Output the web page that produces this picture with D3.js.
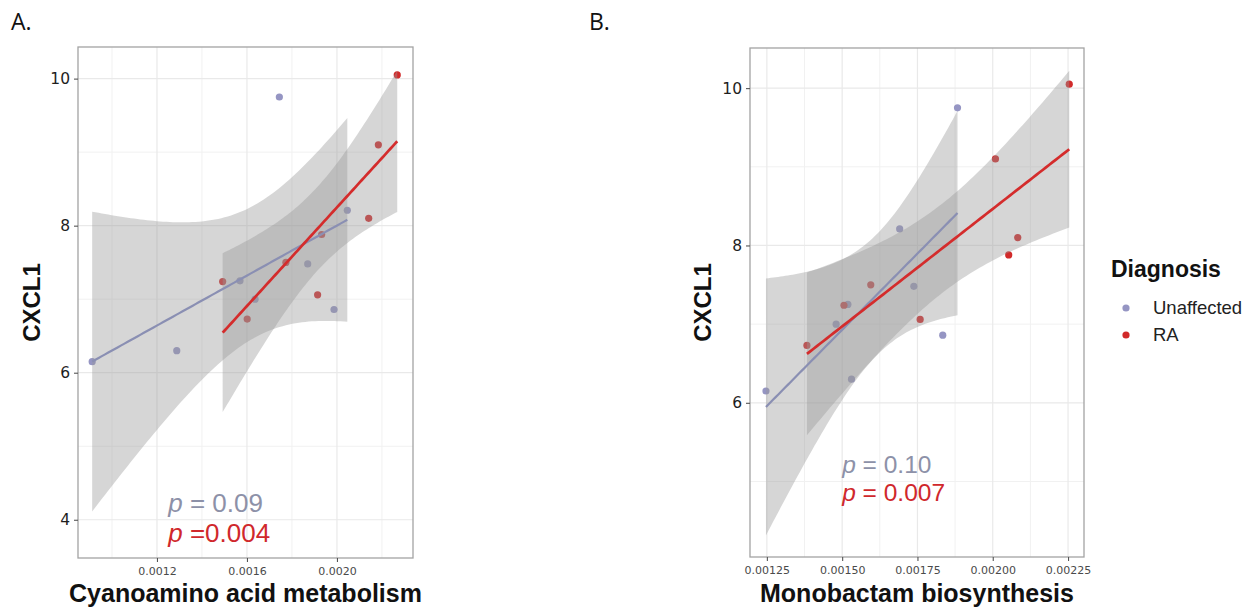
<!DOCTYPE html>
<html><head><meta charset="utf-8">
<script src="https://cdn.jsdelivr.net/npm/d3@7"></script>
<style>
html,body{margin:0;padding:0;background:#fff;}
svg{display:block;}
</style></head>
<body><svg id="chart" width="1252" height="608"></svg>
<script>
// ---------------- DATA ----------------
const groups = ["Unaffected", "RA"];
const groupColors = ["#9595c3", "#d12a2a"];
const lineColors = ["#8a8fb3", "#d42c2c"];
const textColors = ["#8d91a8", "#d0282c"];

// Panel A: Cyanoamino acid metabolism vs CXCL1
const aUnaffectedX = [0.000912, 0.001288, 0.001569, 0.001636, 0.001744, 0.001870, 0.001987, 0.002046];
const aUnaffectedY = [6.15, 6.30, 7.25, 7.00, 9.75, 7.48, 6.86, 8.21];
const aRAX = [0.001492, 0.001601, 0.001773, 0.001914, 0.001932, 0.002141, 0.002184, 0.002268];
const aRAY = [7.24, 6.73, 7.50, 7.06, 7.88, 8.10, 9.10, 10.05];
const aXTicks = [0.0012, 0.0016, 0.0020];
const aXMinor = [0.0010, 0.0014, 0.0018, 0.0022];
const aYTicks = [4, 6, 8, 10];
const aYMinor = [5, 7, 9];
const aPValues = ["0.09", "0.004"];

// Panel B: Monobactam biosynthesis vs CXCL1
const bUnaffectedX = [0.001247, 0.001480, 0.001519, 0.001531, 0.001691, 0.001738, 0.001834, 0.001883];
const bUnaffectedY = [6.15, 7.00, 7.25, 6.30, 8.21, 7.48, 6.86, 9.75];
const bRAX = [0.001383, 0.001506, 0.001595, 0.001759, 0.002009, 0.002053, 0.002083, 0.002254];
const bRAY = [6.73, 7.24, 7.50, 7.06, 9.10, 7.88, 8.10, 10.05];
const bXTicks = [0.00125, 0.00150, 0.00175, 0.00200, 0.00225];
const bXMinor = [0.001375, 0.001625, 0.001875, 0.002125];
const bYTicks = [6, 8, 10];
const bYMinor = [5, 7, 9];
const bPValues = ["0.10", "0.007"];

// t critical values (97.5%) by degrees of freedom
const tCrit = {4: 2.776445, 5: 2.570582, 6: 2.446912, 7: 2.364624, 8: 2.306004};

// ---------------- HELPERS ----------------
function lmFit(xs, ys) {
  const n = xs.length;
  const mx = d3.mean(xs), my = d3.mean(ys);
  let sxx = 0, sxy = 0;
  for (let i = 0; i < n; i++) { sxx += (xs[i]-mx)**2; sxy += (xs[i]-mx)*(ys[i]-my); }
  const b = sxy / sxx, a = my - b * mx;
  let sse = 0;
  for (let i = 0; i < n; i++) sse += (ys[i] - (a + b*xs[i]))**2;
  const s = Math.sqrt(sse / (n - 2));
  const t = tCrit[n - 2];
  const [x0, x1] = d3.extent(xs);
  return d3.range(80).map(k => {
    const x = x0 + (x1 - x0) * k / 79;
    const fit = a + b * x;
    const se = s * Math.sqrt(1/n + (x-mx)**2 / sxx);
    return {x, fit, lo: fit - t*se, hi: fit + t*se};
  });
}

const svg = d3.select("#chart");
const sans = "'Liberation Sans', Arial, sans-serif";

function drawPanel(cfg) {
  const g = svg.append("g");
  const x = d3.scaleLinear().domain(cfg.xDomain).range([cfg.left, cfg.right]);
  const y = d3.scaleLinear().domain(cfg.yDomain).range([cfg.bottom, cfg.top]);

  g.append("rect").attr("x", cfg.left).attr("y", cfg.top)
    .attr("width", cfg.right - cfg.left).attr("height", cfg.bottom - cfg.top).attr("fill", "#fff");

  // grid
  g.selectAll(".vminor").data(cfg.xMinor).enter().append("line")
    .attr("x1", d => x(d)).attr("x2", d => x(d)).attr("y1", cfg.top).attr("y2", cfg.bottom)
    .attr("stroke", "#f1f1f1").attr("stroke-width", 1);
  g.selectAll(".hminor").data(cfg.yMinor).enter().append("line")
    .attr("y1", d => y(d)).attr("y2", d => y(d)).attr("x1", cfg.left).attr("x2", cfg.right)
    .attr("stroke", "#f1f1f1").attr("stroke-width", 1);
  g.selectAll(".vmajor").data(cfg.xTicks).enter().append("line")
    .attr("x1", d => x(d)).attr("x2", d => x(d)).attr("y1", cfg.top).attr("y2", cfg.bottom)
    .attr("stroke", "#e9e9e9").attr("stroke-width", 1.2);
  g.selectAll(".hmajor").data(cfg.yTicks).enter().append("line")
    .attr("y1", d => y(d)).attr("y2", d => y(d)).attr("x1", cfg.left).attr("x2", cfg.right)
    .attr("stroke", "#e9e9e9").attr("stroke-width", 1.2);

  // points (under ribbons, as in ggplot layer order)
  cfg.series.forEach((s, i) => {
    g.selectAll(null).data(s.xs.map((d, k) => [d, s.ys[k]])).enter().append("circle")
      .attr("cx", d => x(d[0])).attr("cy", d => y(d[1])).attr("r", 3.6)
      .attr("fill", groupColors[i]);
  });

  // ribbons and lines
  const fits = cfg.series.map(s => lmFit(s.xs, s.ys));
  fits.forEach(pts => {
    g.append("path").datum(pts)
      .attr("d", d3.area().x(d => x(d.x)).y0(d => y(d.lo)).y1(d => y(d.hi)))
      .attr("fill", "#999999").attr("fill-opacity", 0.4);
  });
  fits.forEach((pts, i) => {
    g.append("path").datum(pts)
      .attr("d", d3.line().x(d => x(d.x)).y(d => y(d.fit)))
      .attr("fill", "none").attr("stroke", lineColors[i]).attr("stroke-width", i === 1 ? 2.7 : 2.2);
  });

  // p value annotations
  cfg.pValues.forEach((p, i) => {
    const t = g.append("text").attr("x", x(cfg.pX)).attr("y", y(cfg.pY[i]))
      .attr("font-family", sans).attr("font-size", cfg.pSize).attr("fill", textColors[i]);
    t.append("tspan").attr("font-style", "italic").text("p");
    t.append("tspan").text(cfg.pSep[i] + p);
  });

  // frame
  g.append("rect").attr("x", cfg.left).attr("y", cfg.top)
    .attr("width", cfg.right - cfg.left).attr("height", cfg.bottom - cfg.top)
    .attr("fill", "none").attr("stroke", "#a3a3a3").attr("stroke-width", 1.3);

  // axes
  const xa = g.append("g").attr("transform", `translate(0,${cfg.bottom})`)
    .call(d3.axisBottom(x).tickValues(cfg.xTicks).tickFormat(cfg.xFormat).tickSize(4).tickPadding(5));
  xa.select(".domain").remove();
  xa.selectAll("line").attr("stroke", "#555").attr("stroke-width", 1.1);
  xa.selectAll("text").attr("font-family", "'DejaVu Sans', sans-serif").attr("font-size", 11).attr("fill", "#4a4a4a");

  const ya = g.append("g").attr("transform", `translate(${cfg.left},0)`)
    .call(d3.axisLeft(y).tickValues(cfg.yTicks).tickFormat(d3.format("d")).tickSize(4).tickPadding(4));
  ya.select(".domain").remove();
  ya.selectAll("line").attr("stroke", "#555").attr("stroke-width", 1.1);
  ya.selectAll("text").attr("font-family", "'DejaVu Sans', sans-serif").attr("font-size", 15.5).attr("fill", "#1e1e1e");

  // titles
  g.append("text").attr("x", (cfg.left + cfg.right) / 2).attr("y", 602)
    .attr("text-anchor", "middle").attr("font-family", sans).attr("font-weight", "bold")
    .attr("font-size", 25).attr("fill", "#111").text(cfg.xTitle);
  g.append("text").attr("transform", `translate(${cfg.yTitleX},${(cfg.top + cfg.bottom) / 2}) rotate(-90)`)
    .attr("text-anchor", "middle").attr("font-family", sans).attr("font-weight", "bold")
    .attr("font-size", 24).attr("fill", "#111").text("CXCL1");

  g.append("text").attr("x", cfg.labelX).attr("y", 30)
    .attr("font-family", "'Open Sans', sans-serif").attr("font-size", 23).attr("fill", "#111").text(cfg.label);
}

drawPanel({
  label: "A.", labelX: 11,
  left: 78, right: 413, top: 47, bottom: 558,
  xDomain: [0.000849, 0.002338], yDomain: [3.48, 10.43],
  xTicks: aXTicks, xMinor: aXMinor, yTicks: aYTicks, yMinor: aYMinor,
  xFormat: d3.format(".4f"),
  series: [{xs: aUnaffectedX, ys: aUnaffectedY}, {xs: aRAX, ys: aRAY}],
  pValues: aPValues, pSep: [" = ", " ="], pX: 0.00125, pY: [4.10, 3.70], pSize: 26,
  xTitle: "Cyanoamino acid metabolism", yTitleX: 40
});

drawPanel({
  label: "B.", labelX: 589,
  left: 750, right: 1084, top: 48, bottom: 557,
  xDomain: [0.001194, 0.002303], yDomain: [4.04, 10.51],
  xTicks: bXTicks, xMinor: bXMinor, yTicks: bYTicks, yMinor: bYMinor,
  xFormat: d3.format(".5f"),
  series: [{xs: bUnaffectedX, ys: bUnaffectedY}, {xs: bRAX, ys: bRAY}],
  pValues: bPValues, pSep: [" = ", " = "], pX: 0.0015, pY: [5.11, 4.75], pSize: 24.5,
  xTitle: "Monobactam biosynthesis", yTitleX: 711
});

// legend
const leg = svg.append("g");
leg.append("text").attr("x", 1111).attr("y", 277).attr("font-family", sans)
  .attr("font-weight", "bold").attr("font-size", 23).attr("fill", "#111").text("Diagnosis");
groups.forEach((gname, i) => {
  leg.append("circle").attr("cx", 1126).attr("cy", 308 + i * 27).attr("r", 3.6).attr("fill", groupColors[i]);
  leg.append("text").attr("x", 1153).attr("y", 314 + i * 27).attr("font-family", sans)
    .attr("font-size", 18.5).attr("fill", "#222").text(gname);
});
</script></body></html>
